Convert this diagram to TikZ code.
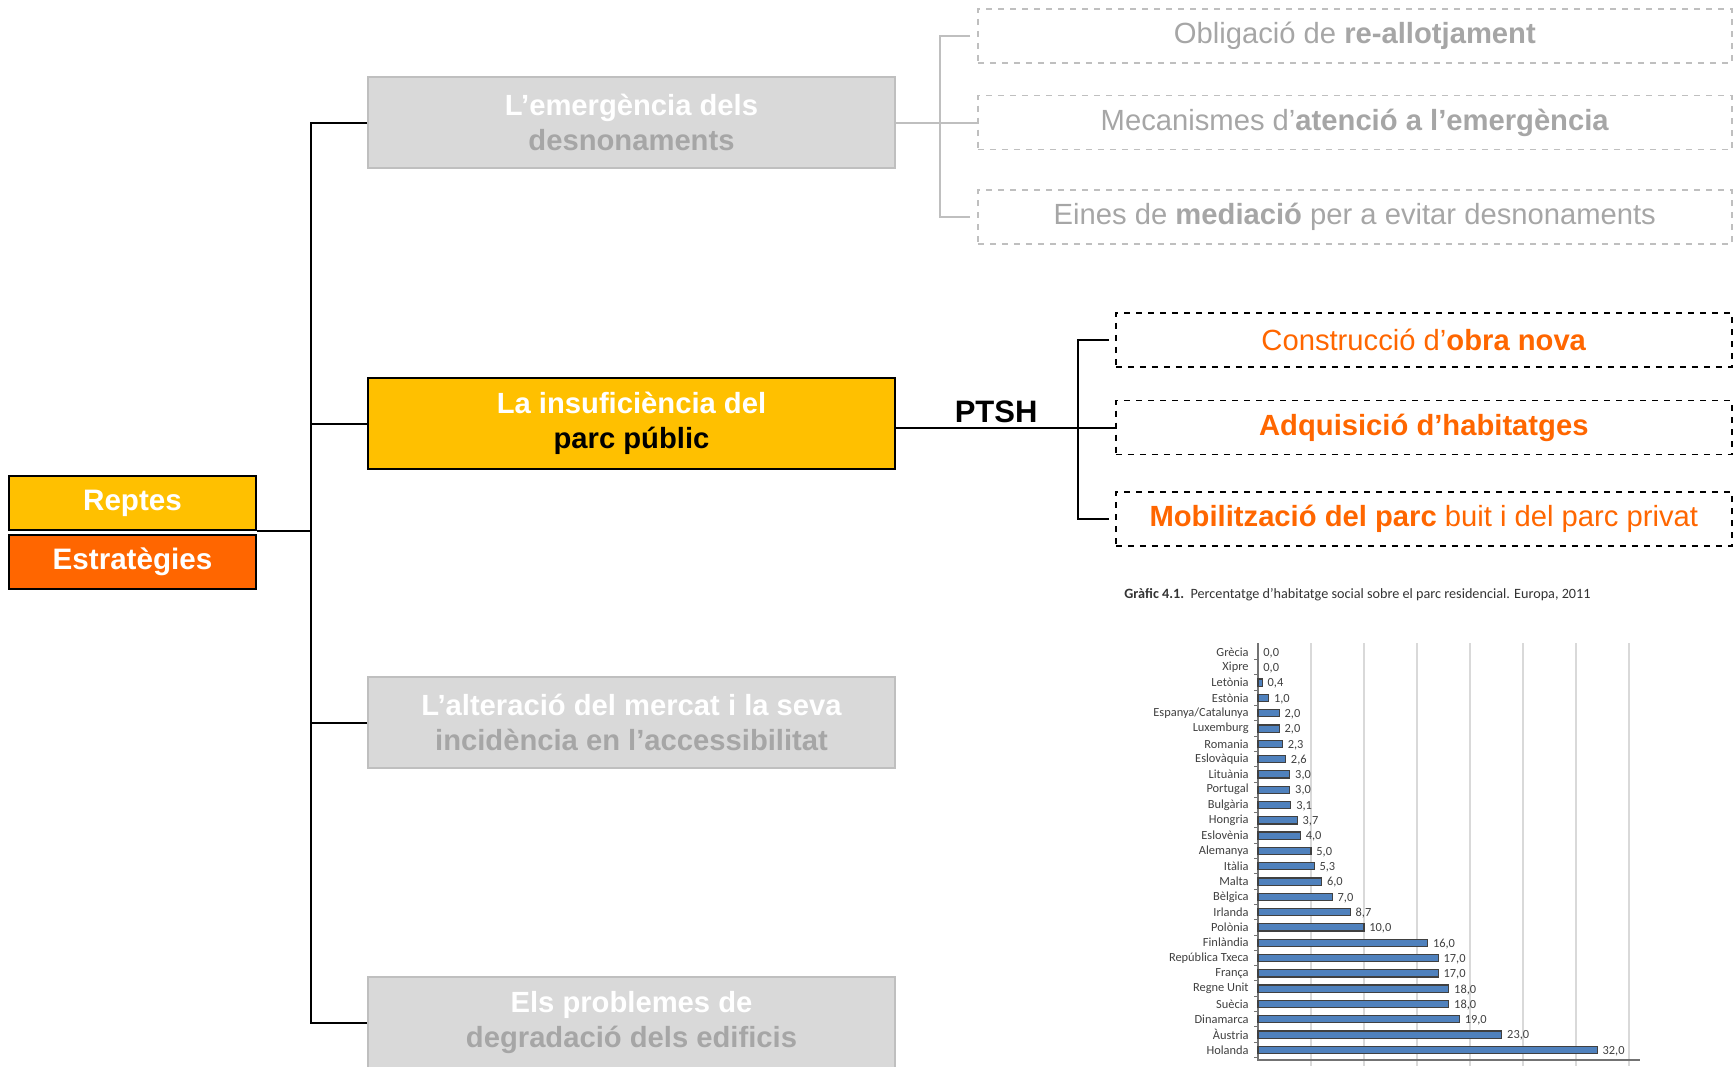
\documentclass[tikz,border=0pt]{standalone}
\usepackage{fontspec}
\setmainfont{Liberation Sans}
\newfontfamily\chartfont{Carlito}
\usetikzlibrary{positioning}

\definecolor{gold}{HTML}{FFC000}
\definecolor{strongorange}{HTML}{FF6600}
\definecolor{boxgray}{HTML}{D9D9D9}
\definecolor{linegray}{HTML}{BFBFBF}
\definecolor{textgray}{HTML}{A6A6A6}
\definecolor{barblue}{HTML}{4F81BD}

\tikzset{
  mainbox/.style={draw, line width=1pt, minimum width=263.5pt, minimum height=45.5pt,
    align=center, text=white, font=\fontsize{14.6}{17.5}\selectfont\bfseries},
  greybox/.style={mainbox, fill=boxgray, draw=linegray},
  keybox/.style={draw, line width=1pt, minimum width=123.5pt, minimum height=27pt,
    text=white, font=\fontsize{14.8}{17}\selectfont\bfseries},
  greysub/.style={draw=linegray, dashed, line width=0.8pt, minimum width=377pt,
    minimum height=27pt, text=textgray, font=\fontsize{14.6}{17}\selectfont},
  orangesub/.style={draw, dashed, line width=0.8pt, minimum width=308pt,
    minimum height=27pt, text=strongorange, font=\fontsize{14.6}{17}\selectfont},
  conn/.style={line width=1pt},
  greyconn/.style={line width=1pt, draw=linegray},
  country/.style={anchor=east, inner sep=0pt, text=black!75, font=\chartfont\fontsize{6.2}{6.5}\selectfont},
  value/.style={anchor=west, inner sep=0pt, text=black!75, font=\chartfont\fontsize{6.2}{6.5}\selectfont},
}

\begin{document}
\begin{tikzpicture}[x=0.5pt, y=-0.5pt]
  \useasboundingbox (0,0) rectangle (1733,1066);

  % challenges
  \node[greybox] (emergencia) at (631.5,122.5)
    {L’emergència dels\\ \textcolor{textgray}{desnonaments}};
  \node[mainbox, fill=gold, below = 104pt of emergencia] (insuficiencia)
    {La insuficiència del\\ \textcolor{black}{parc públic}};
  \node[greybox, below = 103pt of insuficiencia] (alteracio)
    {L’alteració del mercat i la seva\\ \textcolor{textgray}{incidència en l’accessibilitat}};
  \node[greybox, below = 103.5pt of alteracio] (problemes)
    {Els problemes de\\ \textcolor{textgray}{degradació dels edificis}};

  % legend
  \node[keybox, fill=gold] (reptes) at (132.5,503) {Reptes};
  \node[keybox, fill=strongorange, below = 1.5pt of reptes] (estrategies) {Estratègies};

  % trunk
  \coordinate (trunk) at (311,0);
  \draw[conn] (emergencia.west) -- (emergencia.west -| trunk)
    -- (problemes.west -| trunk) -- (problemes.west);
  \draw[conn] (insuficiencia.west) -- (insuficiencia.west -| trunk);
  \draw[conn] (alteracio.west) -- (alteracio.west -| trunk);
  \draw[conn] (reptes.south east) -- (reptes.south east -| trunk);

  % eviction strategies
  \node[greysub, right = 40.5pt of emergencia] (atencio)
    {Mecanismes d’\textbf{atenció a l’emergència}};
  \node[greysub, above = 15.5pt of atencio] (reallot)
    {Obligació de \textbf{re-allotjament}};
  \node[greysub, below = 19.5pt of atencio] (mediacio)
    {Eines de \textbf{mediació} per a evitar desnonaments};
  \coordinate (greyfork) at (940,0);
  \draw[greyconn] (emergencia.east) -- (atencio.west);
  \draw[greyconn] ([xshift=-3.5pt]reallot.west) -- (reallot.west -| greyfork)
    -- (mediacio.west -| greyfork) -- ([xshift=-3.5pt]mediacio.west);

  % public stock strategies
  \node[orangesub, right = 109.5pt of insuficiencia, yshift=-2pt] (adquisicio)
    {\textbf{Adquisició d’habitatges}};
  \node[orangesub, above = 16pt of adquisicio] (obra)
    {Construcció d’\textbf{obra nova}};
  \node[orangesub, below = 18pt of adquisicio] (mobilitzacio)
    {\textbf{Mobilització del parc} buit i del parc privat};
  \coordinate (fork) at (1078,0);
  \draw[conn] (adquisicio.west -| insuficiencia.east) -- (adquisicio.west)
    node[pos=0.457, above=0pt, inner sep=2pt, text=black,
      font=\fontsize{15.5}{16}\selectfont\bfseries] (ptsh) {PTSH};
  \draw[conn] ([xshift=-3pt]obra.west) -- (obra.west -| fork)
    -- (mobilitzacio.west -| fork) -- ([xshift=-3pt]mobilitzacio.west);

  % chart
  \node[anchor=west, inner sep=0pt, text=black!80, font=\chartfont\fontsize{7.1}{8}\selectfont]
    (chartTitle) at (1124,595)
    {\textbf{Gràfic 4.1.}\ \ Percentatge d’habitatge social sobre el parc residencial. Europa, 2011};
  \foreach \k in {1,...,7}
    \draw[black!15, line width=0.7pt] (1258+53*\k,643) -- (1258+53*\k,1066);
  \draw[black!55, line width=0.6pt] (1258,643) -- (1258,1060) -- (1640,1060);
  \foreach \land/\val/\lab [count=\i from 0] in {
      Grècia/0.0/{0,0}, Xipre/0.0/{0,0}, Letònia/0.4/{0,4}, Estònia/1.0/{1,0},
      Espanya\slash Catalunya/2.0/{2,0}, Luxemburg/2.0/{2,0}, Romania/2.3/{2,3},
      Eslovàquia/2.6/{2,6}, Lituània/3.0/{3,0}, Portugal/3.0/{3,0}, Bulgària/3.1/{3,1},
      Hongria/3.7/{3,7}, Eslovènia/4.0/{4,0}, Alemanya/5.0/{5,0}, Itàlia/5.3/{5,3},
      Malta/6.0/{6,0}, Bèlgica/7.0/{7,0}, Irlanda/8.7/{8,7}, Polònia/10.0/{10,0},
      Finlàndia/16.0/{16,0}, República Txeca/17.0/{17,0}, França/17.0/{17,0},
      Regne Unit/18.0/{18,0}, Suècia/18.0/{18,0}, Dinamarca/19.0/{19,0},
      Àustria/23.0/{23,0}, Holanda/32.0/{32,0}} {
    \pgfmathsetmacro{\yy}{652+15.3*\i}
    \pgfmathsetmacro{\xx}{1258+10.6*\val}
    \node[country] (land\i) at (1249,\yy) {\land};
    \ifdim\val pt>0pt
      \draw[fill=barblue, draw=black!75, line width=0.6pt] (1258,\yy-3.6) rectangle (\xx,\yy+3.6);
    \fi
    \node[value] (val\i) at (\xx+5,\yy+1) {\lab};
    \draw[black!55, line width=0.5pt] (1254,\yy+7.65) -- (1258,\yy+7.65);
  }
\end{tikzpicture}
\end{document}
